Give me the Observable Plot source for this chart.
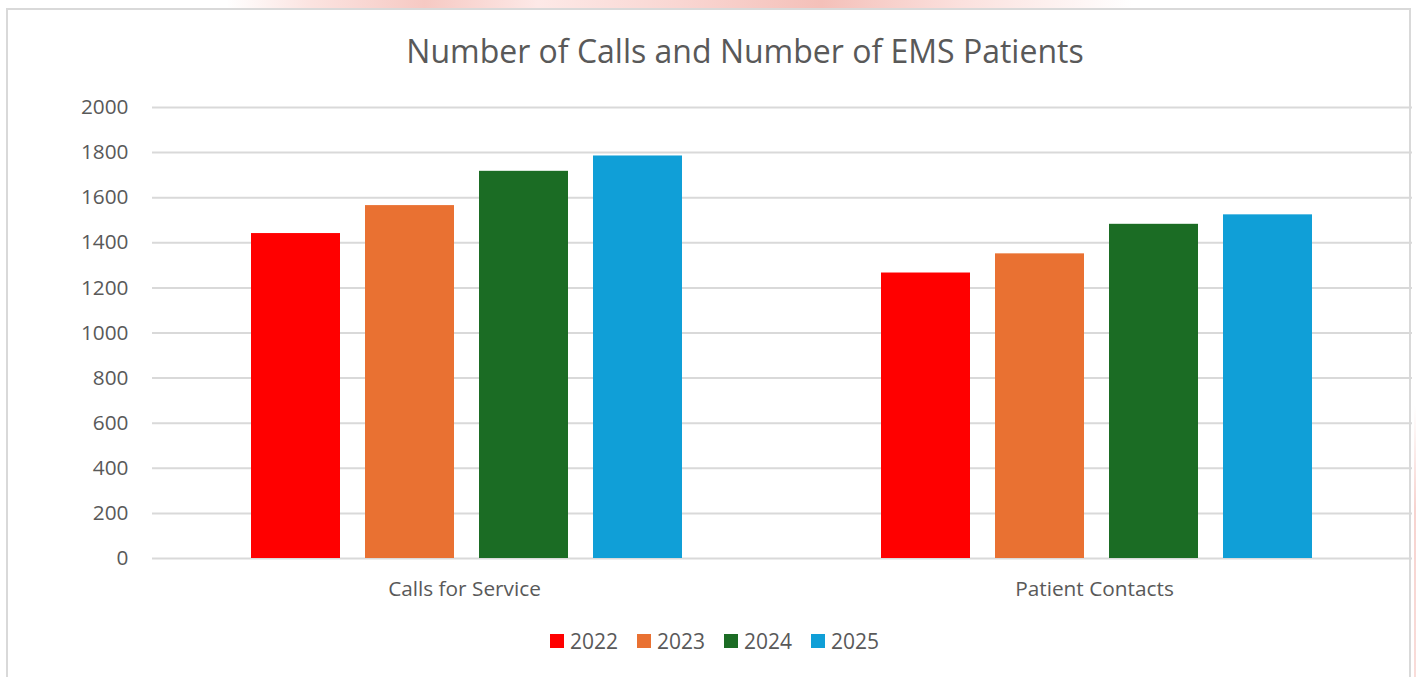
<!DOCTYPE html>
<html>
<head>
<meta charset="utf-8">
<script src="https://cdn.jsdelivr.net/npm/d3@7"></script>
<script src="https://cdn.jsdelivr.net/npm/@observablehq/plot@0.6"></script>
<style>
  html, body { margin: 0; padding: 0; background: #fff; }
  #wrap { position: relative; width: 1416px; height: 677px; overflow: hidden; background: #fff; font-family: "Open Sans", sans-serif; color: #595959; }
  #wash { position: absolute; left: 0; top: 0; width: 1416px; height: 9px;
    background: linear-gradient(to right, #fff 0%, #fff 16%, #fbe3e0 22%, #f6c9c3 30%, #fde9e7 38%, #f9d6d2 48%, #f4c0b9 58%, #fbe1de 68%, #fff 80%, #fff 100%); }
  #rwash { position: absolute; left: 1414px; top: 0; width: 2px; height: 677px;
    background: linear-gradient(to bottom, #fff 0%, #fff 60%, #f7d3cf 75%, #f9dcd9 100%); }
  #frame { position: absolute; left: 6px; top: 8px; width: 1405px; height: 720px; border: 2px solid #d9d9d9; box-sizing: border-box; }
  #title { position: absolute; left: 37px; width: 1416px; top: 35px; text-align: center; font-size: 32px; line-height: 1; color: #595959; white-space: nowrap; }
  #chart { position: absolute; left: 0; top: 0; }
  #legend { position: absolute; top: 628px; left: 550px; display: flex; align-items: center; font-size: 21px; line-height: 26px; color: #595959; }
  .item { display: flex; align-items: center; margin-right: 19px; }
  .sw { width: 14px; height: 14px; margin-right: 6px; }
</style>
</head>
<body>
<div id="wrap">
  <div id="wash"></div>
  <div id="rwash"></div>
  <div id="frame"></div>
  <div id="title"></div>
  <div id="chart"></div>
  <div id="legend"></div>
</div>
<script>
const titleText = "Number of Calls and Number of EMS Patients";
const categories = ["Calls for Service", "Patient Contacts"];
const years = ["2022", "2023", "2024", "2025"];
const colors = ["#FF0000", "#E97132", "#1B6C24", "#109FD7"];
const calls = [1441, 1565, 1717, 1785];
const patients = [1266, 1351, 1482, 1524];
const yTicks = [0, 200, 400, 600, 800, 1000, 1200, 1400, 1600, 1800, 2000];

const seriesByCategory = [calls, patients];
const rows = [];
categories.forEach((c, i) => {
  years.forEach((y, j) => rows.push({category: c, year: y, value: seriesByCategory[i][j]}));
});

document.getElementById("title").textContent = titleText;

const chart = Plot.plot({
  width: 1416,
  height: 620,
  marginTop: 107,
  marginBottom: 62,
  marginLeft: 151,
  marginRight: 4,
  style: {fontFamily: "Open Sans, sans-serif", fontSize: "20.8px", color: "#595959", background: "transparent", overflow: "visible"},
  fx: {domain: categories, padding: 0},
  x: {domain: years, type: "band", paddingInner: 0.215, paddingOuter: 0.859},
  y: {domain: [0, 2000]},
  color: {domain: years, range: colors},
  marks: [
    Plot.ruleY(yTicks, {stroke: "#d9d9d9", strokeWidth: 2}),
    Plot.barY(rows, {fx: "category", x: "year", y: "value", fill: "year"}),
    Plot.axisY(yTicks, {tickSize: 0, tickPadding: 24, label: null, tickFormat: d => String(d)}),
    Plot.axisFx({anchor: "bottom", tickSize: 0, tickPadding: 23, label: null, dx: -3}),
    Plot.axisX([], {label: null})
  ]
});
document.getElementById("chart").appendChild(chart);

const legend = document.getElementById("legend");
years.forEach((y, i) => {
  const item = document.createElement("div");
  item.className = "item";
  const sw = document.createElement("div");
  sw.className = "sw";
  sw.style.background = colors[i];
  const t = document.createElement("span");
  t.textContent = y;
  item.appendChild(sw);
  item.appendChild(t);
  legend.appendChild(item);
});
</script>
</body>
</html>
